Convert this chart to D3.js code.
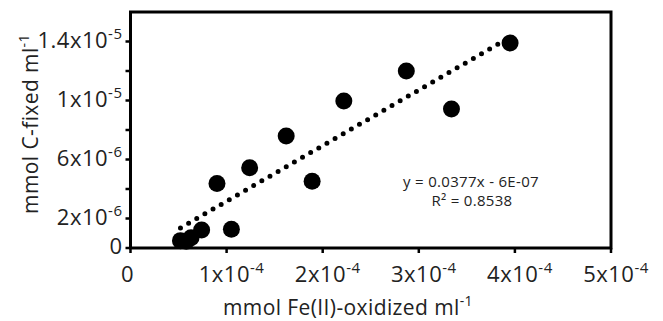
<!DOCTYPE html>
<html>
<head>
<meta charset="utf-8">
<script src="https://cdn.jsdelivr.net/npm/d3@7"></script>
<style>
  body { margin: 0; background: #fff; }
  text { font-family: "Open Sans", "Noto Sans", sans-serif; fill: #222; }
</style>
</head>
<body>
<div id="chart"></div>
<script>
// Fe(II) oxidized vs C fixed (mmol per ml)
var feOxidized = [0.52e-4, 0.58e-4, 0.63e-4, 0.74e-4, 0.90e-4, 1.05e-4, 1.24e-4, 1.62e-4, 1.89e-4, 2.22e-4, 2.87e-4, 3.34e-4, 3.95e-4];
var cFixed     = [0.50e-6, 0.45e-6, 0.70e-6, 1.22e-6, 4.38e-6, 1.27e-6, 5.44e-6, 7.59e-6, 4.52e-6, 9.97e-6, 1.20e-5, 9.42e-6, 1.39e-5];

var xTicks = [0, 1e-4, 2e-4, 3e-4, 4e-4, 5e-4];
var xLabels = [["0", ""], ["1x10", "-4"], ["2x10", "-4"], ["3x10", "-4"], ["4x10", "-4"], ["5x10", "-4"]];
var yTicks = [0, 2e-6, 4e-6, 6e-6, 8e-6, 1e-5, 1.2e-5, 1.4e-5];
var yLabels = [["0", ""], ["2x10", "-6"], null, ["6x10", "-6"], null, ["1x10", "-5"], null, ["1.4x10", "-5"]];

// trendline from the chart: y = 0.0377x - 6E-07
var slope = 0.0377, intercept = -6e-7, r2 = "0.8538";

var W = 663, H = 321;
var margin = {left: 130.5, right: 52, top: 12, bottom: 73};

var svg = d3.select("#chart").append("svg")
  .attr("width", W).attr("height", H);

var x = d3.scaleLinear().domain([0, 5e-4]).range([margin.left, W - margin.right]);
var y = d3.scaleLinear().domain([0, 1.6e-5]).range([H - margin.bottom, margin.top]);

// frame
svg.append("rect")
  .attr("x", x(0)).attr("y", y(1.6e-5))
  .attr("width", x(5e-4) - x(0)).attr("height", y(0) - y(1.6e-5))
  .attr("fill", "none").attr("stroke", "#000").attr("stroke-width", 3);

// ticks
svg.selectAll(".xt").data(xTicks).enter().append("line")
  .attr("x1", function (d) { return x(d); }).attr("x2", function (d) { return x(d); })
  .attr("y1", y(0)).attr("y2", y(0) + 5)
  .attr("stroke", "#000").attr("stroke-width", 2.5);

svg.selectAll(".yt").data(yTicks).enter().append("line")
  .attr("x1", x(0) - 5).attr("x2", x(0))
  .attr("y1", function (d) { return y(d); }).attr("y2", function (d) { return y(d); })
  .attr("stroke", "#000").attr("stroke-width", 2.5);

function sciLabel(sel, lab) {
  sel.append("tspan").text(lab[0]);
  if (lab[1]) {
    sel.append("tspan").attr("dy", -9).attr("font-size", 15).text(lab[1]);
  }
}

svg.selectAll(".xl").data(xTicks).enter().append("text")
  .attr("x", function (d, i) { return x(d) + (i === 0 ? -3 : 5); })
  .attr("y", 282)
  .attr("text-anchor", "middle")
  .attr("font-size", 22).attr("letter-spacing", 0.5)
  .each(function (d, i) { sciLabel(d3.select(this), xLabels[i]); });

svg.selectAll(".yl").data(yTicks).enter().append("text")
  .filter(function (d, i) { return yLabels[i] !== null; })
  .attr("x", x(0) - 8)
  .attr("y", function (d) { return y(d) + 6; })
  .attr("text-anchor", "end")
  .attr("font-size", 22).attr("letter-spacing", 0.5)
  .each(function (d) { sciLabel(d3.select(this), yLabels[yTicks.indexOf(d)]); });

// axis titles
var xt = svg.append("text")
  .attr("x", 348).attr("y", 315)
  .attr("text-anchor", "middle").attr("font-size", 21).attr("letter-spacing", 0.4);
xt.append("tspan").text("mmol Fe(II)-oxidized ml");
xt.append("tspan").attr("dy", -9).attr("font-size", 14).text("-1");

var yt = svg.append("text")
  .attr("transform", "translate(38,124) rotate(-90)")
  .attr("text-anchor", "middle").attr("font-size", 21).attr("letter-spacing", 0.4);
yt.append("tspan").text("mmol C-fixed ml");
yt.append("tspan").attr("dy", -9).attr("font-size", 14).text("-1");

// trendline, dotted
var xmin = d3.min(feOxidized), xmax = d3.max(feOxidized);
svg.append("line")
  .attr("x1", x(xmin)).attr("y1", y(slope * xmin + intercept))
  .attr("x2", x(xmax)).attr("y2", y(slope * xmax + intercept))
  .attr("stroke", "#000").attr("stroke-width", 5)
  .attr("stroke-linecap", "round")
  .attr("stroke-dasharray", "0 9.4");

// points
svg.selectAll("circle.pt").data(feOxidized).enter().append("circle")
  .attr("class", "pt")
  .attr("cx", function (d) { return x(d); })
  .attr("cy", function (d, i) { return y(cFixed[i]); })
  .attr("r", 8.5)
  .attr("fill", "#000");

// equation
svg.append("text").attr("x", 471).attr("y", 187)
  .attr("text-anchor", "middle").attr("font-size", 15).attr("letter-spacing", 0.3)
  .text("y = " + slope + "x - 6E-07");
svg.append("text").attr("x", 472).attr("y", 206)
  .attr("text-anchor", "middle").attr("font-size", 15).attr("letter-spacing", 0.3)
  .text("R\u00b2 = " + r2);
</script>
</body>
</html>
